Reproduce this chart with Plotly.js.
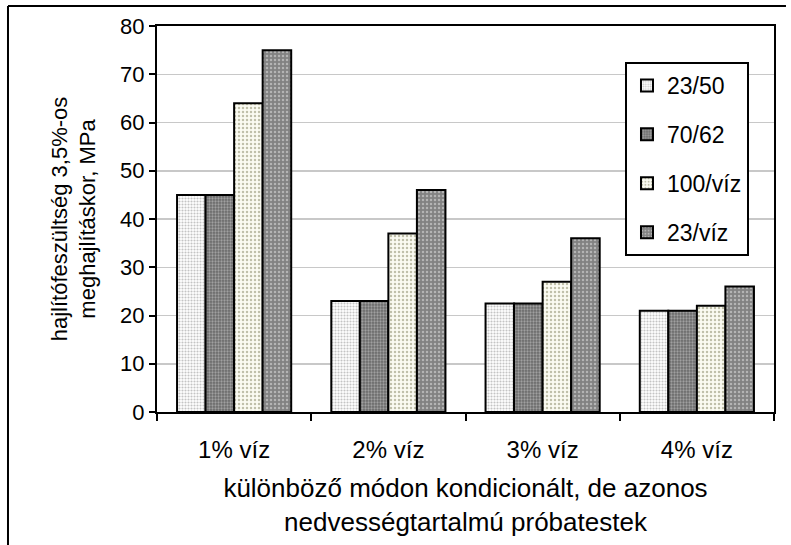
<!DOCTYPE html>
<html>
<head>
<meta charset="utf-8">
<script src="https://cdn.plot.ly/plotly-3.0.1.min.js"></script>
<style>
html,body{margin:0;padding:0;background:#fff;}
#chart{width:791px;height:545px;}
</style>
</head>
<body>
<div id="chart"></div>
<script>
const categories = ["1% víz", "2% víz", "3% víz", "4% víz"];
const s2350 = [45, 23, 22.5, 21];
const s7062 = [45, 23, 22.5, 21];
const s100viz = [64, 37, 27, 22];
const s23viz = [75, 46, 36, 26];
const seriesNames = ["23/50", "70/62", "100/víz", "23/víz"];
const yTicks = [0, 10, 20, 30, 40, 50, 60, 70, 80];

const FONT = "Liberation Sans, Arial, sans-serif";

function bar(name, vals, bg, fg, size, sol, grp) {
  return {
    type: "bar", name: name, x: categories, y: vals, legendgroup: grp,
    marker: {
      color: bg,
      line: {color: "#000", width: 2},
      pattern: {shape: ".", bgcolor: bg, fgcolor: fg, size: size, solidity: sol, fillmode: "replace"}
    },
    hoverinfo: "x+y+name"
  };
}

const data = [
  bar(seriesNames[0], s2350, "#ffffff", "#c4c4c4", 3, 0.4, "a"),
  bar(seriesNames[1], s7062, "#6a6a6a", "#a0a0a0", 3, 0.45, "b"),
  bar(seriesNames[2], s100viz, "#fbfbf2", "#c0c0aa", 4, 0.3, "c"),
  bar(seriesNames[3], s23viz, "#828282", "#b4b4b4", 4, 0.3, "d")
];

const layout = {
  width: 791, height: 545,
  margin: {l: 157, r: 17, t: 26, b: 133},
  paper_bgcolor: "#fff", plot_bgcolor: "#fff",
  font: {family: FONT, color: "#000", size: 21},
  barmode: "group", bargap: 0.26, bargroupgap: 0,
  showlegend: true,
  legend: {
    x: 0.7585, y: 0.9067, xanchor: "left", yanchor: "top",
    bgcolor: "#fff", bordercolor: "#000", borderwidth: 2,
    font: {family: FONT, size: 23, color: "#000"},
    traceorder: "grouped", tracegroupgap: 16
  },
  xaxis: {
    type: "category",
    showline: true, linecolor: "#000", linewidth: 2, mirror: true,
    ticks: "outside", tickson: "boundaries", ticklen: 7, tickcolor: "#000", tickwidth: 2,
    tickfont: {family: FONT, size: 24},
    ticklabelstandoff: 15,
    showgrid: false, zeroline: false,
    title: {text: "különböző módon kondicionált, de azonos<br>nedvességtartalmú próbatestek",
            font: {family: FONT, size: 26}, standoff: 17}
  },
  yaxis: {
    range: [0, 80], tickvals: yTicks, ticktext: yTicks.map(String),
    showline: true, linecolor: "#000", linewidth: 2, mirror: true,
    ticks: "outside", ticklen: 6, tickcolor: "#000", tickwidth: 2,
    tickfont: {family: FONT, size: 22},
    showgrid: true, gridcolor: "#c8c8c8", gridwidth: 1.5, zeroline: false,
    title: {text: "hajlítófeszültség 3,5%-os<br>meghajlításkor, MPa",
            font: {family: FONT, size: 22}, standoff: 18}
  },
  shapes: [
    {type: "line", xref: "paper", yref: "paper", x0: -0.2415, x1: 1.0194, y0: 1.0518, y1: 1.0518,
     line: {color: "#000", width: 2}},
    {type: "line", xref: "paper", yref: "paper", x0: -0.2415, x1: -0.2415, y0: 1.0518, y1: -0.36,
     line: {color: "#000", width: 2}}
  ]
};

Plotly.newPlot("chart", data, layout, {displayModeBar: false, staticPlot: true});
</script>
</body>
</html>
